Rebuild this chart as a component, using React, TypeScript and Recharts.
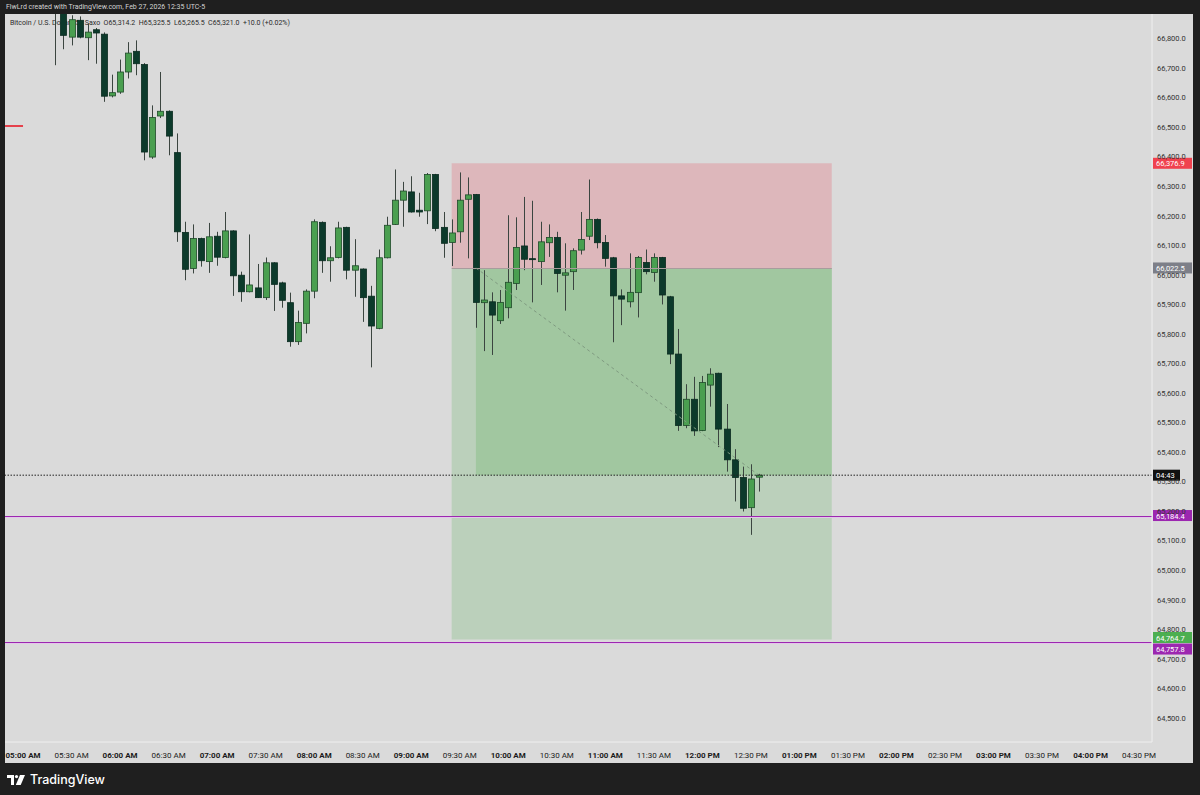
import { ComposedChart, Bar, XAxis, YAxis, ReferenceArea, ReferenceLine } from "recharts";

// 5 minute candles, BTCUSD (Saxo), Feb 27 2026
const times = [
  "05:20", "05:25", "05:30", "05:35", "05:40", "05:45", "05:50", "05:55", "06:00", "06:05",
  "06:10", "06:15", "06:20", "06:25", "06:30", "06:35", "06:40", "06:45", "06:50", "06:55",
  "07:00", "07:05", "07:10", "07:15", "07:20", "07:25", "07:30", "07:35", "07:40", "07:45",
  "07:50", "07:55", "08:00", "08:05", "08:10", "08:15", "08:20", "08:25", "08:30", "08:35",
  "08:40", "08:45", "08:50", "08:55", "09:00", "09:05", "09:10", "09:15", "09:20", "09:25",
  "09:30", "09:35", "09:40", "09:45", "09:50", "09:55", "10:00", "10:05", "10:10", "10:15",
  "10:20", "10:25", "10:30", "10:35", "10:40", "10:45", "10:50", "10:55", "11:00", "11:05",
  "11:10", "11:15", "11:20", "11:25", "11:30", "11:35", "11:40", "11:45", "11:50", "11:55",
  "12:00", "12:05", "12:10", "12:15", "12:20", "12:25", "12:30", "12:35",
];

const opens = [
  66895, 66885, 66804, 66861, 66802, 66829, 66814, 66605, 66618, 66686,
  66756, 66711, 66398, 66537, 66553, 66413, 66143, 66021, 66122, 66044,
  66130, 66058, 66148, 65998, 65942, 65955, 65922, 66040, 65972, 65905,
  65773, 65835, 65944, 66177, 66047, 66058, 66160, 66015, 66019, 65927,
  65818, 66057, 66170, 66252, 66280, 66218, 66216, 66339, 66160, 66109,
  66145, 66255, 66271, 65905, 65908, 65844, 65888, 65970, 66097, 66054,
  66044, 66108, 66126, 65998, 66010, 66083, 66130, 66187, 66109, 66057,
  65928, 65908, 65939, 66041, 66007, 66058, 65925, 65731, 65489, 65578,
  65472, 65626, 65666, 65477, 65373, 65313, 65211, 65314.2,
];

const highs = [
  66920, 66895, 66878, 66874, 66850, 66835, 66820, 66677, 66728, 66787,
  66793, 66716, 66573, 66686, 66556, 66478, 66179, 66170, 66125, 66175,
  66145, 66212, 66150, 66010, 66136, 66036, 66058, 66042, 65976, 65939,
  65878, 65950, 66187, 66180, 66096, 66179, 66162, 66120, 66021, 65962,
  66085, 66196, 66356, 66314, 66333, 66277, 66344, 66341, 66212, 66187,
  66346, 66329, 66273, 66015, 65940, 65948, 66201, 66194, 66263, 66250,
  66179, 66170, 66145, 66106, 66089, 66212, 66322, 66190, 66134, 66060,
  65950, 66072, 66063, 66085, 66072, 66060, 65928, 65816, 65629, 65654,
  65657, 65683, 65668, 65562, 65409, 65350, 65358, 65325.5,
];

const lows = [
  66709, 66763, 66776, 66800, 66726, 66714, 66585, 66600, 66612, 66664,
  66675, 66387, 66392, 66530, 66404, 66111, 65981, 66004, 66027, 66006,
  66030, 66055, 65928, 65908, 65940, 65921, 65914, 65877, 65888, 65756,
  65762, 65801, 65920, 66006, 65976, 66055, 65984, 65925, 65840, 65686,
  65815, 66055, 66168, 66162, 66210, 66196, 66171, 66147, 66057, 66029,
  66108, 66055, 65820, 65741, 65728, 65833, 65852, 65948, 66015, 65906,
  65965, 66060, 65940, 65878, 65948, 66068, 66117, 66089, 66027, 65771,
  65829, 65889, 65855, 66001, 65976, 65899, 65697, 65471, 65480, 65454,
  65470, 65553, 65416, 65333, 65232, 65198, 65119, 65265.5,
];

const closes = [
  66905, 66810, 66863, 66804, 66821, 66818, 66604, 66616, 66686, 66750,
  66714, 66415, 66532, 66553, 66469, 66145, 66018, 66122, 66047, 66128,
  66059, 66148, 65996, 65942, 65965, 65922, 66040, 65967, 65913, 65773,
  65838, 65944, 66179, 66047, 66057, 66158, 66015, 66030, 65922, 65826,
  66057, 66167, 66252, 66283, 66212, 66212, 66339, 66156, 66106, 66141,
  66252, 66270, 65906, 65914, 65863, 65906, 65974, 66092, 66052, 66052,
  66111, 66126, 66004, 66006, 66081, 66119, 66187, 66108, 66055, 65928,
  65917, 65940, 66058, 66010, 66058, 65931, 65731, 65489, 65578, 65471,
  65635, 65663, 65477, 65373, 65313, 65209, 65308, 65321,
];

const timeLabels = [
  "05:00 AM", "05:30 AM", "06:00 AM", "06:30 AM", "07:00 AM", "07:30 AM",
  "08:00 AM", "08:30 AM", "09:00 AM", "09:30 AM", "10:00 AM", "10:30 AM",
  "11:00 AM", "11:30 AM", "12:00 PM", "12:30 PM", "01:00 PM", "01:30 PM",
  "02:00 PM", "02:30 PM", "03:00 PM", "03:30 PM", "04:00 PM", "04:30 PM",
];

const priceTicks = [
  64500, 64600, 64700, 64800, 64900, 65000, 65100, 65200, 65300, 65400, 65500, 65600,
  65700, 65800, 65900, 66000, 66100, 66200, 66300, 66400, 66500, 66600, 66700, 66800,
];

// short position tool
const entryPrice = 66022.5;
const stopPrice = 66376.9;
const targetPrice = 64764.7;
const entryTime = "09:25";
const fillTime = "09:40";
const toolEndTime = "01:20";
const lastPrice = 65321.0;
const purpleLevels = [65184.4, 64757.8];
const redMarkPrice = 66505;

const slot = (t: string) => {
  let [h, m] = t.split(":").map(Number);
  if (h < 5) h += 12;
  return (h * 60 + m - 300) / 5;
};

const candles = times.map((t, i) => ({
  n: slot(t),
  open: opens[i],
  high: highs[i],
  low: lows[i],
  close: closes[i],
  range: [lows[i], highs[i]],
}));

const W = 1188;
const H = 749;
const Y_AXIS_W = 41;
const X_AXIS_H = 21;
const FONT = "Roboto, 'Noto Sans', sans-serif";

const UP = "#4a9f50";
const UP_EDGE = "#1f4a2a";
const DOWN = "#0c3a2b";
const DOWN_EDGE = "#0a2b20";
const WICK = "#3b4540";
const PURPLE = "#9c27b0";
const RED = "#e5414c";

const Candle = (props: any) => {
  const { x, y, width, height, payload } = props;
  if (!payload) return null;
  const { open, close, high, low } = payload;
  const h = Math.abs(height);
  const top = height >= 0 ? y : y + height;
  const k = high - low > 0 ? h / (high - low) : 0;
  const yOf = (v: number) => top + (high - v) * k;
  const cx = Math.round(x + width / 2) + 0.5;
  const up = close >= open;
  const bTop = yOf(Math.max(open, close));
  const bBot = yOf(Math.min(open, close));
  return (
    <g>
      <line x1={cx} x2={cx} y1={top} y2={top + h} stroke={WICK} strokeWidth={1} />
      <rect
        x={cx - 3}
        y={bTop}
        width={6}
        height={Math.max(1, bBot - bTop)}
        fill={up ? UP : DOWN}
        stroke={up ? UP_EDGE : DOWN_EDGE}
        strokeWidth={0.8}
      />
    </g>
  );
};

// solid level line drawn from the reference line's end points
const levelLine = (color: string, halo?: string) => (p: any) => {
  const yy = Math.round(p.y1) + 0.5;
  return (
    <g>
      {halo && <line x1={p.x1} x2={p.x2} y1={yy + 1} y2={yy + 1} stroke={halo} strokeWidth={1} />}
      <line x1={p.x1} x2={p.x2} y1={yy} y2={yy} stroke={color} strokeWidth={1} />
    </g>
  );
};

const TimeTick = (props: any) => {
  const { x, y, payload } = props;
  const idx = Math.round(payload.value / 6);
  return (
    <text
      x={x}
      y={y + 8}
      textAnchor="middle"
      fontSize={8}
      fontFamily={FONT}
      fontWeight={idx % 2 === 0 ? 700 : 400}
      fill="#1b1b1b"
    >
      {timeLabels[idx]}
    </text>
  );
};

const fmt = (v: number) =>
  v.toLocaleString("en-US", { minimumFractionDigits: 1, maximumFractionDigits: 1 });

const PriceTick = (props: any) => {
  const { y, payload } = props;
  return (
    <text x={W - Y_AXIS_W + 5} y={y + 3} fontSize={7.5} fontFamily={FONT} fill="#333">
      {fmt(payload.value)}
    </text>
  );
};

const axisTag = (text: string, bg: string, dy = 0, w = 39) => (props: any) => {
  const vb = props.viewBox;
  if (!vb) return null;
  const x0 = vb.x + vb.width + 1;
  const yc = vb.y + dy;
  return (
    <g>
      <rect x={x0} y={yc - 5.5} width={w} height={11} fill={bg} />
      <text x={x0 + 3} y={yc + 3} fontSize={7.5} fontFamily={FONT} fill="#fff">
        {text}
      </text>
    </g>
  );
};

const TvLogo = () => (
  <svg width={18} height={10} viewBox="0 0 18 10">
    <path d="M0 0h7v10H4V3H0z" fill="#fff" />
    <circle cx={9.5} cy={1.6} r={1.6} fill="#fff" />
    <path d="M13 0h5l-4.3 10H8.8z" fill="#fff" />
  </svg>
);

export default function App() {
  const x0 = -2.23;
  const x1 = 139.6;
  return (
    <div
      style={{
        position: "absolute",
        left: 0,
        top: 0,
        width: 1200,
        height: 795,
        background: "#1f1f1f",
        fontFamily: FONT,
        overflow: "hidden",
      }}
    >
      <div style={{ position: "absolute", left: 6, top: 3, fontSize: 7, color: "#d4d4d4" }}>
        FlwLrd created with TradingView.com, Feb 27, 2026 12:35 UTC-5
      </div>
      <div style={{ position: "absolute", left: 5, top: 14, width: W, height: H, background: "#dadada" }}>
        <div
          style={{
            position: "absolute",
            left: 5,
            top: 5,
            fontSize: 7,
            color: "#2a2a2a",
            whiteSpace: "pre",
          }}
        >
          {"Bitcoin / U.S. Dollar · 5 · Saxo  O65,314.2  H65,325.5  L65,265.5  C65,321.0  +10.0 (+0.02%)"}
        </div>
        <div style={{ position: "absolute", left: 0, top: 0 }}>
          <ComposedChart
            width={W}
            height={H}
            data={candles}
            margin={{ top: 0, right: 0, bottom: 0, left: 0 }}
          >
            <XAxis
              dataKey="n"
              type="number"
              domain={[x0, x1]}
              allowDataOverflow
              ticks={timeLabels.map((_, i) => i * 6)}
              tick={<TimeTick />}
              tickLine={false}
              axisLine={{ stroke: "#efefef" }}
              height={X_AXIS_H}
              interval={0}
            />
            <YAxis
              orientation="right"
              type="number"
              domain={[64417.7, 66882.3]}
              allowDataOverflow
              ticks={priceTicks}
              tick={<PriceTick />}
              tickLine={false}
              axisLine={{ stroke: "#efefef" }}
              width={Y_AXIS_W}
              interval={0}
            />
            <ReferenceArea
              x1={slot(entryTime)}
              x2={slot(toolEndTime)}
              y1={entryPrice}
              y2={stopPrice}
              fill="#ddb7bb"
              fillOpacity={1}
              stroke="none"
            />
            <ReferenceArea
              x1={slot(entryTime)}
              x2={slot(toolEndTime)}
              y1={targetPrice}
              y2={entryPrice}
              fill="#bbd0bb"
              fillOpacity={1}
              stroke="none"
            />
            <ReferenceArea
              x1={slot(fillTime)}
              x2={slot(toolEndTime)}
              y1={lastPrice}
              y2={entryPrice}
              fill="#a1c7a0"
              fillOpacity={1}
              stroke="none"
            />
            <ReferenceLine
              segment={[
                { x: slot(entryTime), y: entryPrice },
                { x: slot(toolEndTime), y: entryPrice },
              ]}
              shape={levelLine("#a89c9d")}
            />
            <ReferenceLine
              segment={[
                { x: slot(fillTime), y: entryPrice },
                { x: slot(times[times.length - 1]), y: lastPrice },
              ]}
              stroke="#7f9a80"
              strokeDasharray="3 3"
              strokeWidth={1}
            />
            <ReferenceLine
              segment={[
                { x: x0, y: redMarkPrice },
                { x: 0, y: redMarkPrice },
              ]}
              shape={levelLine(RED, RED)}
            />
            <ReferenceLine
              y={purpleLevels[0]}
              shape={levelLine(PURPLE, "#e3c6ea")}
              label={axisTag(fmt(purpleLevels[0]), PURPLE)}
            />
            <ReferenceLine y={purpleLevels[1]} shape={levelLine(PURPLE, "#e3c6ea")} />
            <ReferenceLine y={lastPrice} stroke="#222" strokeDasharray="1.5 1.5" strokeWidth={1} />
            <Bar dataKey="range" shape={<Candle />} barSize={6} isAnimationActive={false} />
            <ReferenceLine y={stopPrice} stroke="none" label={axisTag(fmt(stopPrice), "#f0424f")} />
            <ReferenceLine y={entryPrice} stroke="none" label={axisTag(fmt(entryPrice), "#7d7f88")} />
            <ReferenceLine y={targetPrice} stroke="none" label={axisTag(fmt(targetPrice), "#4caf50", -2)} />
            <ReferenceLine y={purpleLevels[1]} stroke="none" label={axisTag(fmt(purpleLevels[1]), PURPLE, 7.5)} />
            <ReferenceLine y={lastPrice} stroke="none" label={axisTag("04:43", "#111", 0, 27)} />
          </ComposedChart>
        </div>
      </div>
      <div style={{ position: "absolute", left: 7, top: 772, display: "flex", alignItems: "center", gap: 5 }}>
        <TvLogo />
        <span style={{ color: "#fff", fontSize: 12.5, fontWeight: 500, fontFamily: "Inter, sans-serif" }}>TradingView</span>
      </div>
    </div>
  );
}
